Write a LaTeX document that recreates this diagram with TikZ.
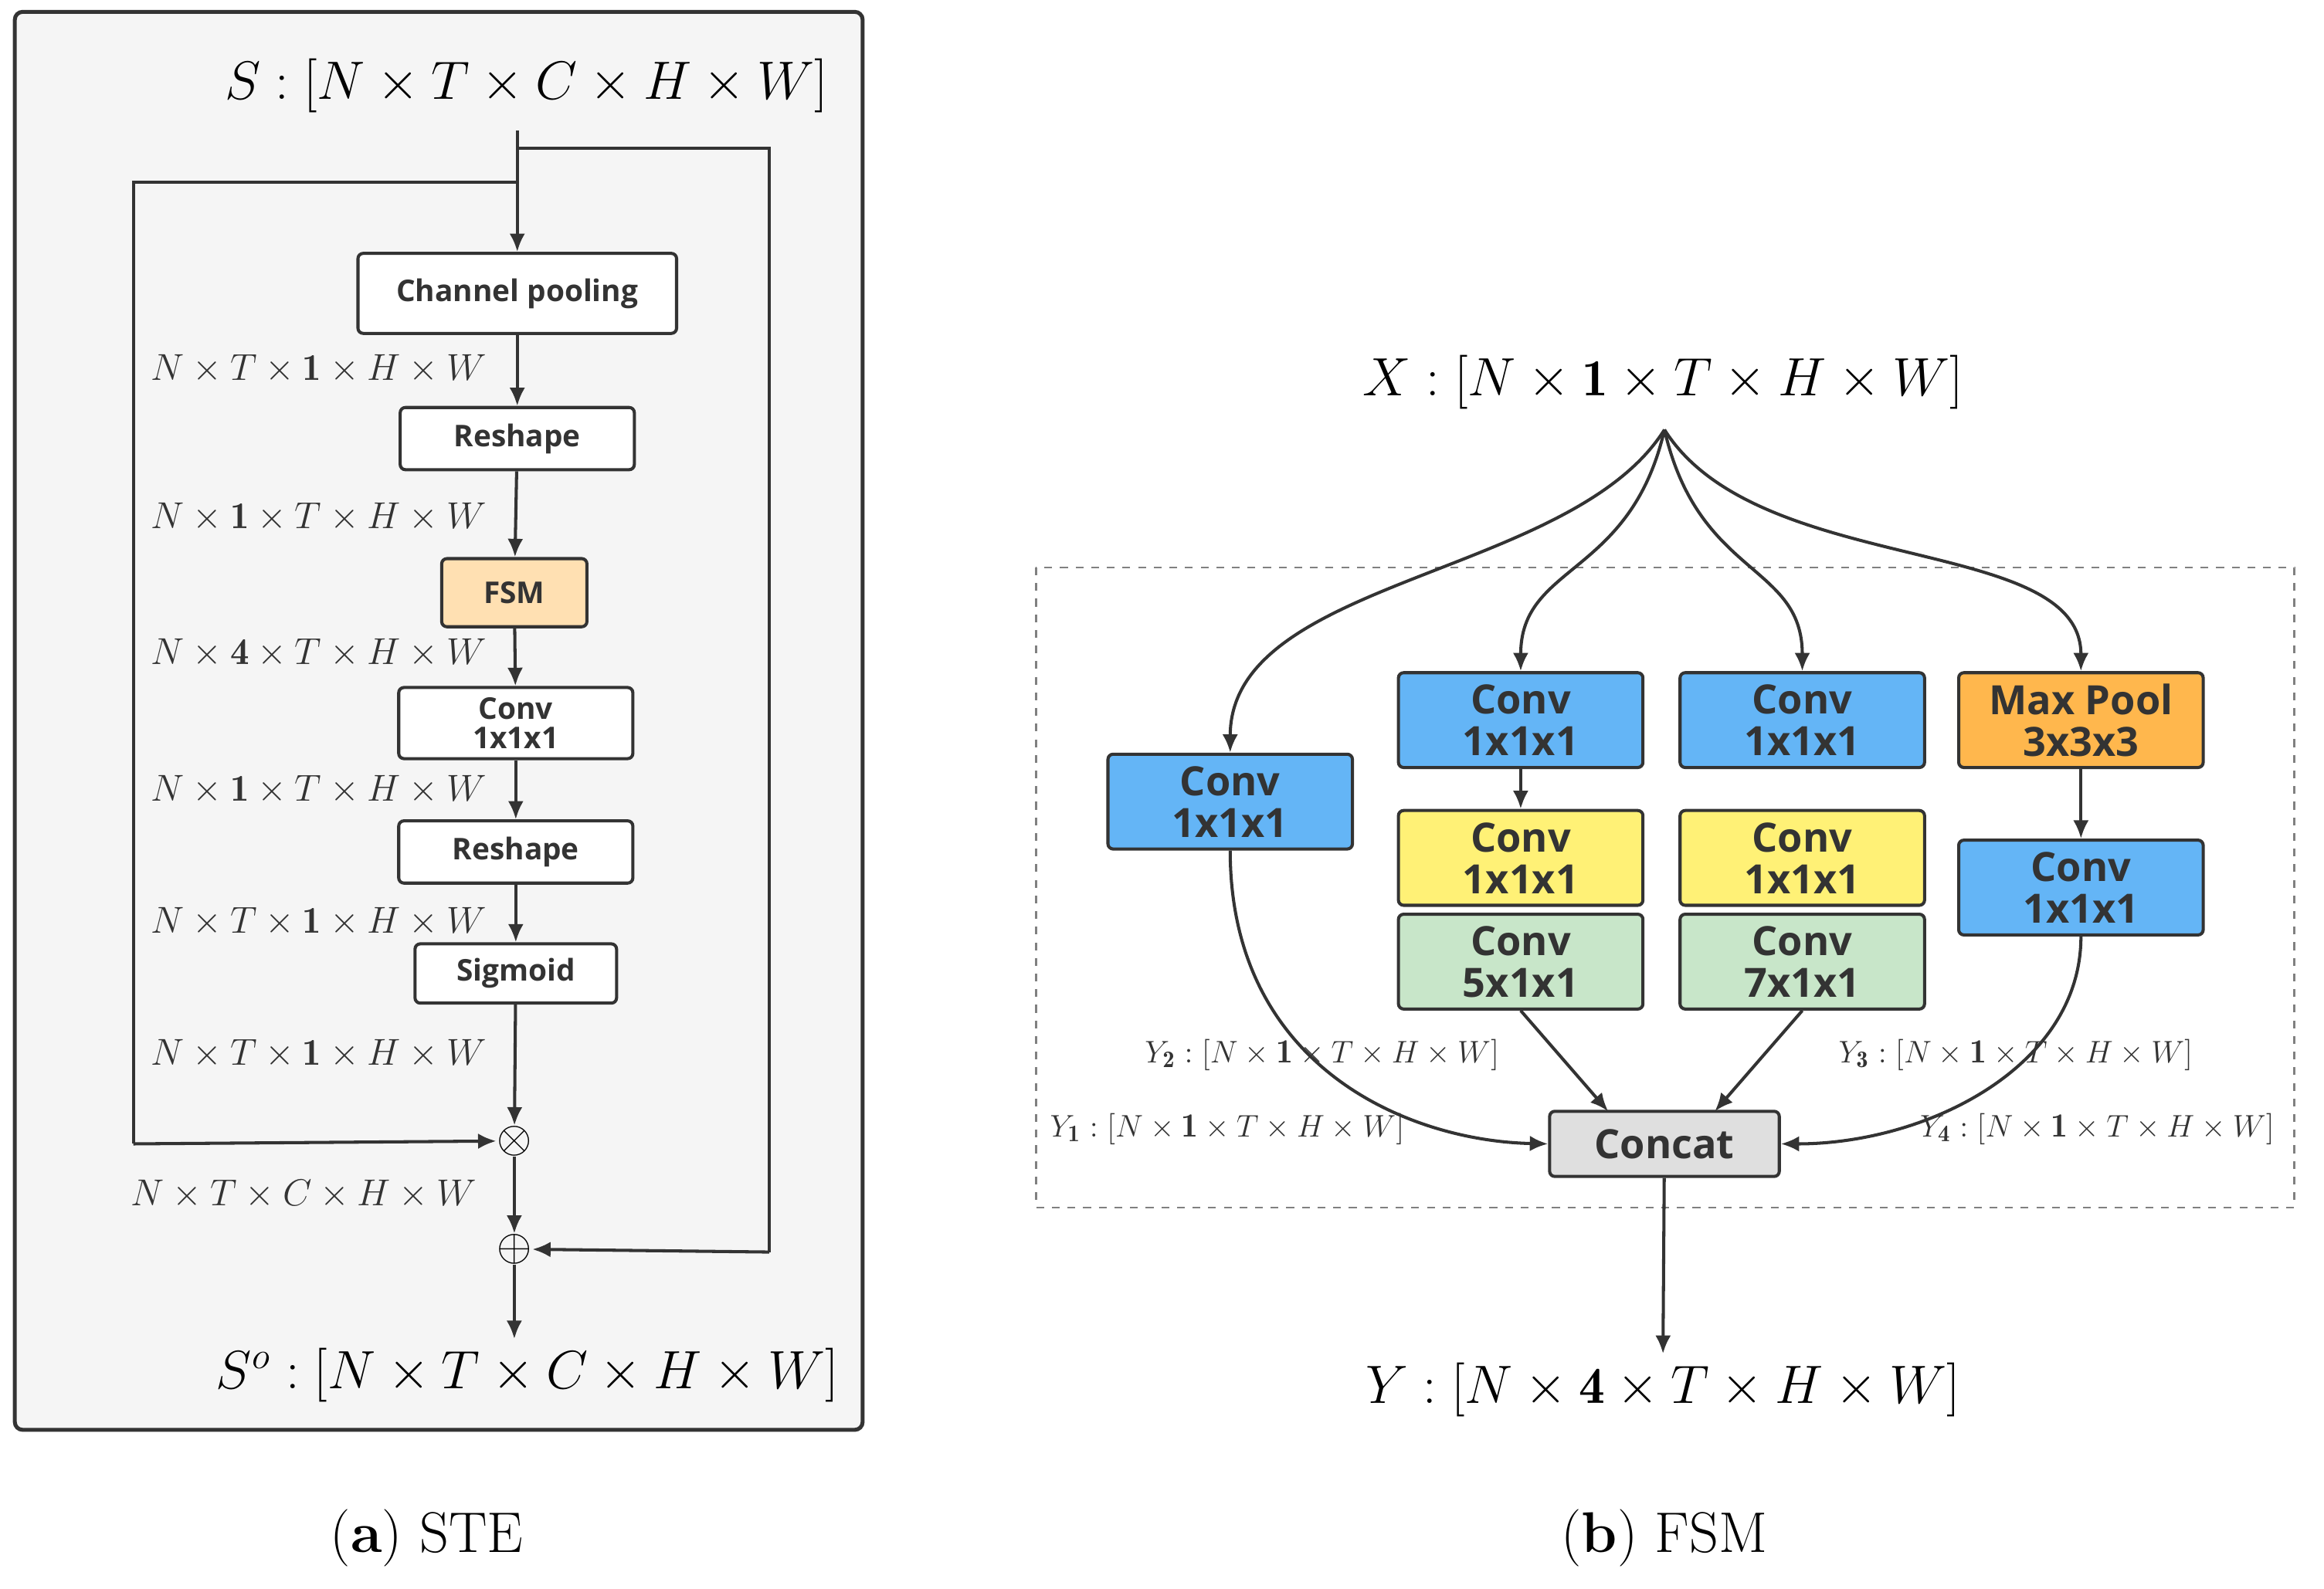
\documentclass[tikz,border=0pt]{standalone}
\usepackage{fontspec}
\usepackage{amsmath,amssymb}
\newfontfamily\boxf{Open Sans}
\usetikzlibrary{arrows.meta}
\definecolor{cblue}{HTML}{64B5F6}
\definecolor{cyel}{HTML}{FFF176}
\definecolor{cgreen}{HTML}{C8E6C9}
\definecolor{corange}{HTML}{FFB74D}
\definecolor{cfsm}{HTML}{FFE0B2}
\definecolor{cline}{HTML}{333333}
\begin{document}
\begin{tikzpicture}[x=0.02cm,y=-0.02cm,
 lb/.style={draw=cline,line width=1.2pt,rounded corners=2pt,fill=white,font=\boxf\fontsize{11.5}{12}\selectfont\bfseries,text=cline,align=center,inner sep=0pt},
 rb/.style={draw=cline,line width=1.2pt,rounded corners=2pt,font=\boxf\fontsize{15.5}{16}\selectfont\bfseries,text=cline,align=center,inner sep=0pt,minimum width=3.3cm,minimum height=1.28cm},
 ar/.style={draw=cline,line width=1.2pt,-{Latex[length=7pt,width=6pt]}},
 ln/.style={draw=cline,line width=1.2pt},
 sm/.style={font=\fontsize{14.5}{15}\selectfont,text=cline},
 ys/.style={font=\fontsize{13}{14}\selectfont,text=cline},
 big/.style={font=\fontsize{20}{22}\selectfont}]
\useasboundingbox (0,0) rectangle (1568,1072);
% left panel
\draw[draw=cline,line width=1.5pt,fill=gray!8,rounded corners=3pt] (10,8) rectangle (582,965);
\node[big,anchor=east] (S) at (565,58) {$S:[N\times T\times C\times H\times W]$};
\node[lb,minimum width=4.3cm,minimum height=1.08cm] (cp) at (349,198) {Channel pooling};
\node[lb,minimum width=3.16cm,minimum height=0.84cm] (r1) at (349,296) {Reshape};
\node[lb,fill=cfsm,minimum width=1.96cm,minimum height=0.92cm] (fsm) at (347,400) {FSM};
\node[lb,minimum width=3.16cm,minimum height=0.96cm,font=\boxf\fontsize{11.5}{11.5}\selectfont\bfseries] (cv) at (348,488) {Conv\\1x1x1};
\node[lb,minimum width=3.16cm,minimum height=0.84cm] (r2) at (348,575) {Reshape};
\node[lb,minimum width=2.72cm,minimum height=0.8cm] (sg) at (348,657) {Sigmoid};
\node[font=\fontsize{18}{18}\selectfont,inner sep=0pt] (ot) at (347,770) {$\otimes$};
\node[font=\fontsize{18}{18}\selectfont,inner sep=0pt] (op) at (347,843) {$\oplus$};
\node[big,anchor=east] (So) at (572,928) {$S^{o}:[N\times T\times C\times H\times W]$};
\coordinate (s0) at (349,88);
\coordinate (s1) at (349,100); \coordinate (s2) at (519,100); \coordinate (s3) at (519,845);
\coordinate (b1) at (349,123); \coordinate (b2) at (90,123); \coordinate (b3) at (90,772);
\draw[ar] (s0) -- (cp);
\draw[ln] (s1) -- (s2) -- (s3); \draw[ar] (s3) -- (op);
\draw[ln] (b1) -- (b2) -- (b3); \draw[ar] (b3) -- (ot);
\draw[ar] (cp) -- (r1); \draw[ar] (r1) -- (fsm); \draw[ar] (fsm) -- (cv);
\draw[ar] (cv) -- (r2); \draw[ar] (r2) -- (sg); \draw[ar] (sg) -- (ot);
\draw[ar] (ot) -- (op); \draw[ar] (op) -- (So.north -| op);
\node[sm] at (215,249) {$N\times T\times \mathbf{1}\times H\times W$};
\node[sm] at (215,349) {$N\times \mathbf{1}\times T\times H\times W$};
\node[sm] at (215,441) {$N\times \mathbf{4}\times T\times H\times W$};
\node[sm] at (215,533) {$N\times \mathbf{1}\times T\times H\times W$};
\node[sm] at (215,622) {$N\times T\times \mathbf{1}\times H\times W$};
\node[sm] at (215,711) {$N\times T\times \mathbf{1}\times H\times W$};
\node[sm] at (205,806) {$N\times T\times C\times H\times W$};
% right panel
\draw[gray,dashed,line width=0.8pt] (699,383) rectangle (1548,815);
\node[big] (X) at (1122,258) {$X:[N\times \mathbf{1}\times T\times H\times W]$};
\coordinate (src) at (1123,290);
\node[rb,fill=cblue] (c1) at (830,541) {Conv\\1x1x1};
\node[rb,fill=cblue] (c2) at (1026,486) {Conv\\1x1x1};
\node[rb,fill=cyel] (y2) at (1026,579) {Conv\\1x1x1};
\node[rb,fill=cgreen] (g2) at (1026,649) {Conv\\5x1x1};
\node[rb,fill=cblue] (c3) at (1216,486) {Conv\\1x1x1};
\node[rb,fill=cyel] (y3) at (1216,579) {Conv\\1x1x1};
\node[rb,fill=cgreen] (g3) at (1216,649) {Conv\\7x1x1};
\node[rb,fill=corange] (mp) at (1404,486) {Max Pool\\3x3x3};
\node[rb,fill=cblue] (c4) at (1404,599) {Conv\\1x1x1};
\node[rb,fill=gray!25,minimum width=3.1cm,minimum height=0.88cm] (cc) at (1123,772) {Concat};
\node[big] (Y) at (1122,938) {$Y:[N\times \mathbf{4}\times T\times H\times W]$};
\draw[ar] (src) .. controls (1060,390) and (830,390) .. (c1.north);
\draw[ar] (src) .. controls (1100,390) and (1026,380) .. (c2.north);
\draw[ar] (src) .. controls (1146,390) and (1216,380) .. (c3.north);
\draw[ar] (src) .. controls (1186,390) and (1404,360) .. (mp.north);
\draw[ar] (c2) -- (y2); \draw[ar] (mp) -- (c4);
\draw[ar] (g2.south) -- (1085,750);
\draw[ar] (g3.south) -- (1157,750);
\draw[ar] (c1.south) .. controls (830,720) and (950,770) .. (cc.west);
\draw[ar] (c4.south) .. controls (1404,720) and (1300,772) .. (cc.east);
\draw[ar] (cc) -- (Y.north);
\node[ys] at (892,712) {$Y_{\mathbf{2}}:[N\times \mathbf{1}\times T\times H\times W]$};
\node[ys] at (828,762) {$Y_{\mathbf{1}}:[N\times \mathbf{1}\times T\times H\times W]$};
\node[ys] at (1360,712) {$Y_{\mathbf{3}}:[N\times \mathbf{1}\times T\times H\times W]$};
\node[ys] at (1415,762) {$Y_{\mathbf{4}}:[N\times \mathbf{1}\times T\times H\times W]$};
% captions
\node[font=\fontsize{22}{24}\selectfont] at (288,1038) {(\textbf{a}) STE};
\node[font=\fontsize{22}{24}\selectfont] at (1123,1038) {(\textbf{b}) FSM};
\end{tikzpicture}
\end{document}
